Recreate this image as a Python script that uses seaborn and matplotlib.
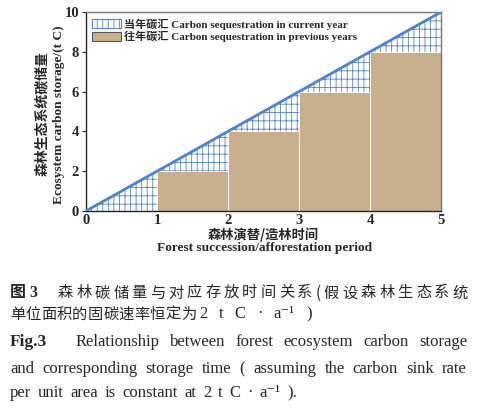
import matplotlib
matplotlib.use("Agg")
import matplotlib.pyplot as plt
from matplotlib.patches import Patch
import seaborn as sns

# ── data ──────────────────────────────────────────────────────────────────────
years = [0, 1, 2, 3, 4, 5]
total_storage = [0, 2, 4, 6, 8, 10]          # cumulative carbon storage (t C)
prev_start = [1, 2, 3, 4]                    # start of each year interval
prev_storage = [2, 4, 6, 8]                  # carbon stored in previous years
x_ticks = [0, 1, 2, 3, 4, 5]
y_ticks = [0, 2, 4, 6, 8, 10]

label_current = "当年碳汇 Carbon sequestration in current year"
label_previous = "往年碳汇 Carbon sequestration in previous years"

BLUE = "#4f82c6"
TAN = "#c8b08f"
W, H = 479, 409

sns.set_style("ticks")
SERIF = ["Liberation Serif", "DejaVu Serif", "Noto Sans CJK SC"]
CJK = ["Noto Sans CJK SC"]
plt.rcParams["font.family"] = SERIF
plt.rcParams["hatch.linewidth"] = 0.6
plt.rcParams["hatch.color"] = BLUE

fig = plt.figure(figsize=(W / 100, H / 100), dpi=100)
ax = fig.add_axes([86 / W, 1 - 211 / H, (441 - 86) / W, (211 - 12) / H])

# hatched area = carbon sequestered in the current year
ax.fill_between(years, 0, total_storage, facecolor="white", edgecolor=BLUE,
                hatch="++|", linewidth=0, zorder=1)
# tan steps = storage carried over from previous years
ax.bar(prev_start, prev_storage, width=1, align="edge", color=TAN,
       edgecolor="white", linewidth=0.6, zorder=2)
sns.lineplot(x=years, y=total_storage, ax=ax, color=BLUE, linewidth=2,
             zorder=3, legend=False)

ax.set_xlim(0, 5)
ax.set_ylim(0, 10)
ax.set_xticks(x_ticks)
ax.set_yticks(y_ticks)
ax.tick_params(axis="x", direction="in", length=3, pad=2)
ax.tick_params(axis="y", direction="out", length=3, pad=2)
for lab in ax.get_xticklabels() + ax.get_yticklabels():
    lab.set_fontweight("bold")
    lab.set_fontsize(10.5)
for s in ["top", "right"]:
    ax.spines[s].set_color("#777777")
for s in ax.spines.values():
    s.set_linewidth(1)
ax.set_xlabel("")
ax.set_ylabel("")

handles = [
    Patch(facecolor="white", edgecolor=BLUE, hatch="|||", linewidth=0.8, label=label_current),
    Patch(facecolor=TAN, edgecolor="#555555", linewidth=0.8, label=label_previous),
]
ax.legend(handles=handles, loc="upper left", frameon=False,
          prop={"family": SERIF, "weight": "bold", "size": 8},
          handlelength=2.6, handleheight=0.9, handletextpad=0.3,
          labelspacing=0.1, borderaxespad=0.15, bbox_to_anchor=(0.0, 1.0))


def ftext(x, y, s, **kw):
    return fig.text(x / W, 1 - y / H, s, **kw)


# axis titles
ftext(42, 114, "森林生态系统碳储量", rotation=90, ha="center", va="center",
      fontsize=10, fontweight="bold", family=CJK)
ftext(59, 115, "Ecosystem carbon storage/(t C)", rotation=90, ha="center",
      va="center", fontsize=9.6, fontweight="bold")
ftext(263, 235, "森林演替/造林时间", ha="center", va="center",
      fontsize=9.5, fontweight="bold", family=CJK)
ftext(265, 248, "Forest succession/afforestation period", ha="center",
      va="center", fontsize=9.6, fontweight="bold")

# ── caption ───────────────────────────────────────────────────────────────────
renderer = fig.canvas.get_renderer()
EN = 12


def justify(words, x0, x1, y, **kw):
    objs = [ftext(0, y, w, va="center", **kw) for w in words]
    widths = [o.get_window_extent(renderer).width for o in objs]
    gap = (x1 - x0 - sum(widths)) / max(len(words) - 1, 1)
    x = x0
    for o, w in zip(objs, widths):
        o.set_x(x / W)
        x += w + gap


ftext(10, 293, "图 3", va="center", fontsize=11.5, fontweight="bold",
      family=["Liberation Serif", "Noto Sans CJK SC"])
justify(list("森林碳储量与对应存放时间关系(假设森林生态系统"), 58, 468, 293,
        fontsize=11, family=CJK)
justify(list("单位面积的固碳速率恒定为"), 10, 196, 314, fontsize=11, family=CJK)
justify(["2", "t", "C", "·", "a⁻¹", ")"], 199, 312, 314, fontsize=EN,
        family=SERIF)

ftext(10, 342, "Fig.3", va="center", fontsize=12.5, fontweight="bold")
justify("Relationship between forest ecosystem carbon storage".split(), 76, 467,
        342, fontsize=EN)
justify("and corresponding storage time ( assuming the carbon sink rate".split(),
        10, 467, 369, fontsize=EN)
justify("per unit area is constant at 2 t C · a⁻¹ ).".split(), 10, 297, 393,
        fontsize=EN, family=SERIF)

fig.savefig("out.png", dpi=100)
